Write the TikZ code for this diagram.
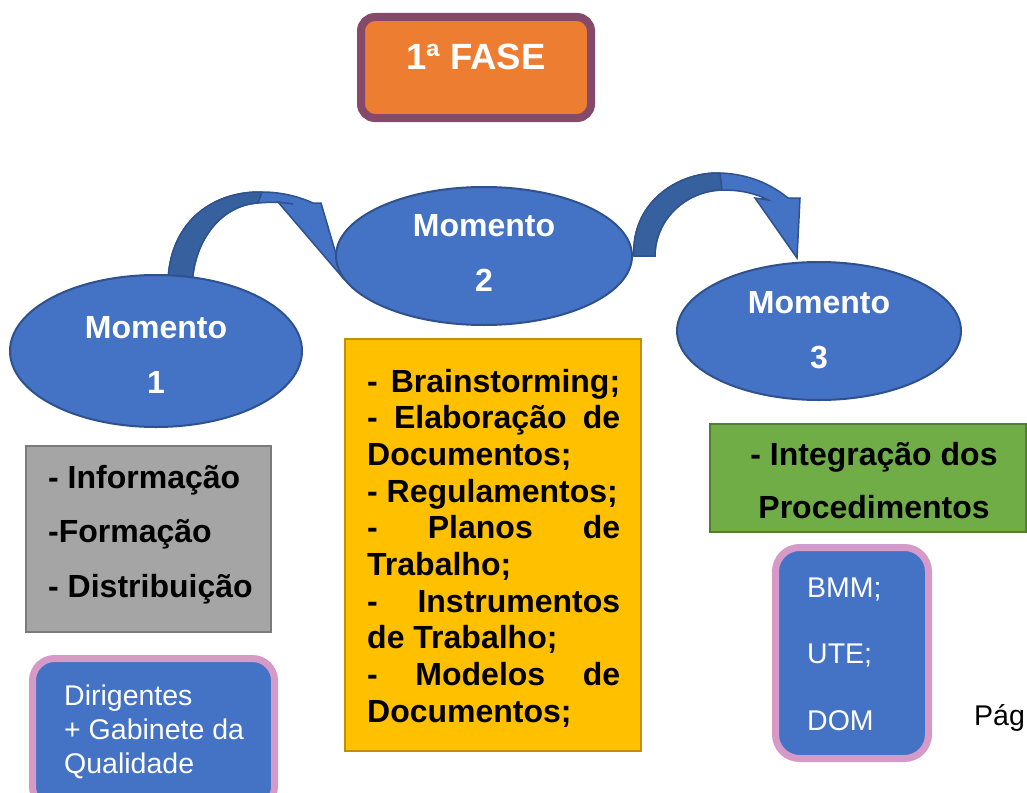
\documentclass[tikz,border=0pt]{standalone}
\usepackage{fontspec}
\setmainfont{Liberation Sans}
\usetikzlibrary{shapes.geometric}
\definecolor{eblue}{HTML}{4472C4}
\definecolor{eborder}{HTML}{2F528F}
\definecolor{adark}{HTML}{37609F}
\definecolor{fasepurple}{HTML}{85496A}
\definecolor{faseorange}{HTML}{ED7D31}
\definecolor{pinkb}{HTML}{D59AC7}
\definecolor{grayf}{HTML}{A5A5A5}
\definecolor{grayb}{HTML}{7B7B7B}
\definecolor{yelf}{HTML}{FFC000}
\definecolor{yelb}{HTML}{BF9000}
\definecolor{grnf}{HTML}{70AD47}
\definecolor{grnb}{HTML}{507E32}
\tikzset{
  ell/.style={ellipse, draw=eborder, fill=eblue, line width=2pt, inner sep=0pt},
  bt/.style={font=\fontsize{32}{37}\selectfont\bfseries, inner sep=0pt, anchor=base west},
  btw/.style={bt, text=white, anchor=base},
  rt/.style={font=\fontsize{28.5}{34}\selectfont, inner sep=0pt, anchor=base west, text=white},
  plainbox/.style={rectangle, line width=2pt, inner sep=0pt},
  pinkbox/.style={rectangle, rounded corners=22pt, draw=pinkb, fill=eblue, line width=7pt, inner sep=0pt},
  curvarrow/.style={fill=eblue, draw=eborder, line width=1.5pt, line join=miter},
  curvdark/.style={fill=adark, draw=eborder, line width=1.5pt},
}
\begin{document}
\begin{tikzpicture}[x=1pt,y=-1pt]
\useasboundingbox (0,0) rectangle (1027,792);
\clip (0,0) rectangle (1027,792);
\fill[white] (0,0) rectangle (1027,792);

% title
\node[rectangle, rounded corners=14pt, draw=fasepurple, fill=faseorange, line width=8pt,
      minimum width=230pt, minimum height=101pt, inner sep=0pt] (fase) at (476,67.5) {};
\node[font=\fontsize{36.5}{40}\selectfont\bfseries, text=white, inner sep=0pt, anchor=base] (fasetxt) at (476,70) {1ª FASE};

% curved arrow 1
\path[curvarrow] (168,290) .. controls (166,225) and (210,191) .. (262,192)
  .. controls (282,192) and (300,197) .. (313,203)
  -- (321,203) -- (343,278) -- (278,202) -- (293,204)
  .. controls (282,202) and (270,202) .. (258,203)
  .. controls (222,205) and (192,240) .. (192,290) -- cycle;
\path[curvdark] (168,290) .. controls (166,225) and (210,191) .. (262,192)
  -- (258,203) .. controls (222,205) and (192,240) .. (192,290) -- cycle;

% curved arrow 2
\path[curvarrow] (634,256) .. controls (631,205) and (675,172) .. (720,173)
  .. controls (750,174) and (772,185) .. (788,198)
  -- (800,198) -- (797,258) -- (755,198) -- (768,200)
  .. controls (755,193) and (740,190) .. (722,190)
  .. controls (685,191) and (655,220) .. (655,256) -- cycle;
\path[curvdark] (634,256) .. controls (631,205) and (675,172) .. (720,173)
  -- (722,190) .. controls (685,191) and (655,220) .. (655,256) -- cycle;

% ellipses
\node[ell, minimum width=292pt, minimum height=152pt] (m1) at (156,351) {};
\node[btw] (m1a) at (156,338) {Momento};
\node[btw] (m1b) at (156,393) {1};
\node[ell, minimum width=296pt, minimum height=138pt] (m2) at (484,256) {};
\node[btw] (m2a) at (484,236) {Momento};
\node[btw] (m2b) at (484,291) {2};
\node[ell, minimum width=284pt, minimum height=138pt] (m3) at (819,331) {};
\node[btw] (m3a) at (819,313) {Momento};
\node[btw] (m3b) at (819,368) {3};

% gray box
\node[plainbox, draw=grayb, fill=grayf, minimum width=245pt, minimum height=186pt] (gbox) at (148.5,539) {};
\node[bt] (g1) at (48,488) {- Informação};
\node[bt] (g2) at (48,542) {-Formação};
\node[bt] (g3) at (48,597) {- Distribuição};

% yellow box
\node[plainbox, draw=yelb, fill=yelf, minimum width=296pt, minimum height=412pt] (ybox) at (493,545) {};
\node[bt] (y1) at (367,392) {\makebox[253pt][s]{- Brainstorming;}};
\node[bt] (y2) at (367,428.7) {\makebox[253pt][s]{- Elaboração de}};
\node[bt] (y3) at (367,465.3) {Documentos;};
\node[bt] (y4) at (367,502) {- Regulamentos;};
\node[bt] (y5) at (367,538.7) {\makebox[253pt][s]{- Planos de}};
\node[bt] (y6) at (367,575.3) {Trabalho;};
\node[bt] (y7) at (367,612) {\makebox[253pt][s]{- Instrumentos}};
\node[bt] (y8) at (367,648.7) {de Trabalho;};
\node[bt] (y9) at (367,685.3) {\makebox[253pt][s]{- Modelos de}};
\node[bt] (y10) at (367,722) {Documentos;};

% green box
\node[plainbox, draw=grnb, fill=grnf, minimum width=316pt, minimum height=108pt] (gr) at (868,477.5) {};
\node[bt, anchor=base] (gr1) at (874,465) {- Integração dos};
\node[bt, anchor=base] (gr2) at (874,518) {Procedimentos};

% pink boxes
\node[pinkbox, minimum width=242pt, minimum height=150pt] (dir) at (153.5,733.5) {};
\node[rt] (d1) at (64,705) {Dirigentes};
\node[rt] (d2) at (64,739) {+ Gabinete da};
\node[rt] (d3) at (64,773) {Qualidade};

\node[pinkbox, rounded corners=24pt, minimum width=153pt, minimum height=211pt] (ents) at (852,653) {};
\node[rt] (e1) at (807,597) {BMM;};
\node[rt] (e2) at (807,663) {UTE;};
\node[rt] (e3) at (807,730) {DOM};

\node[rt, text=black] (pag) at (974,725) {Pág};
\end{tikzpicture}
\end{document}
